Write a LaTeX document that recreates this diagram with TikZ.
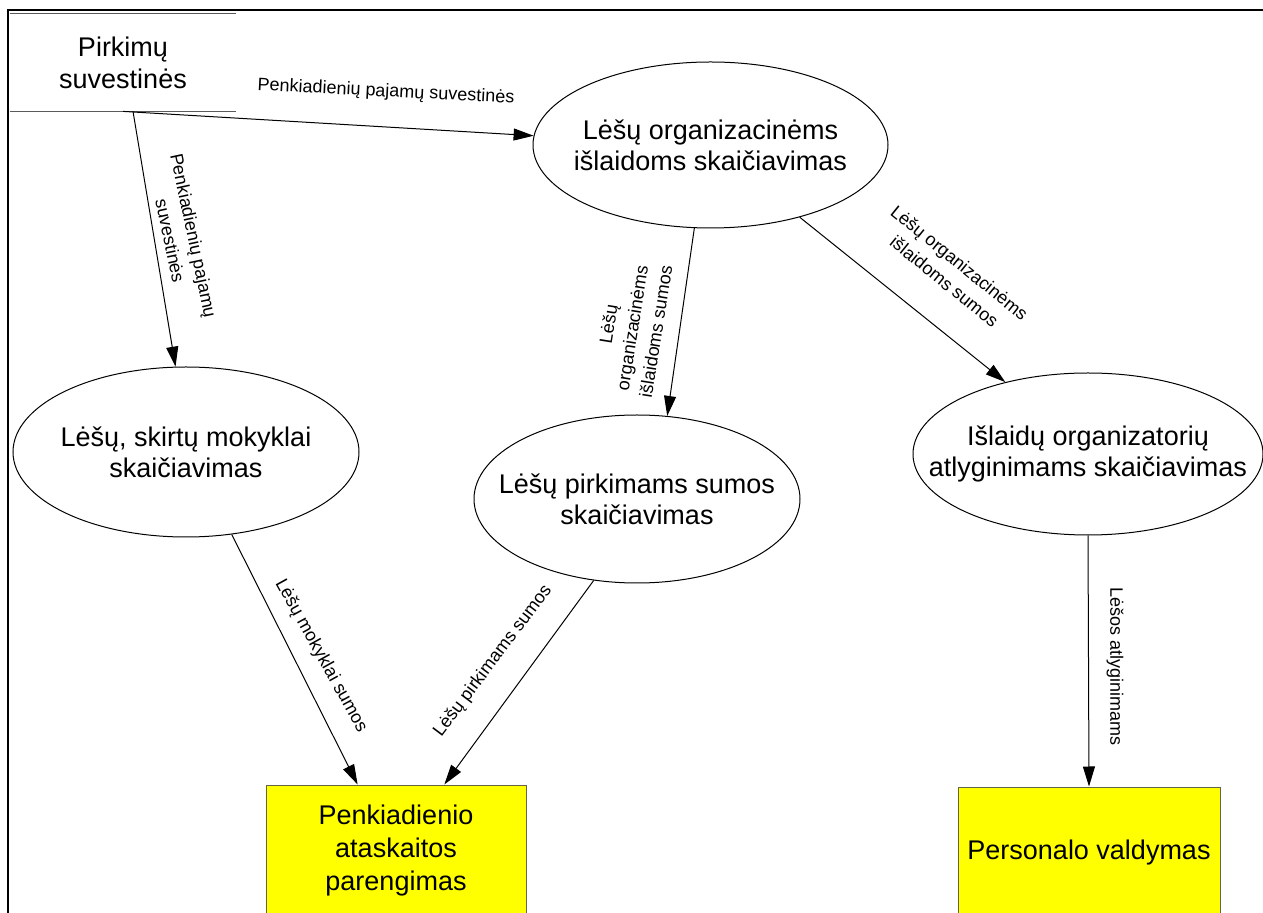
\documentclass[tikz,border=0pt]{standalone}
\usepackage{fontspec}
\setmainfont{Liberation Sans}
\usetikzlibrary{arrows.meta,shapes.geometric}
\definecolor{boxfill}{RGB}{255,255,0}
\definecolor{boxline}{RGB}{100,100,70}
\definecolor{storeline}{RGB}{90,90,90}
\tikzset{
  proc/.style={ellipse, draw, line width=0.5pt, inner sep=0pt},
  proctext/.style={inner sep=0pt, align=center,
    font=\fontsize{13.5}{15.5}\selectfont},
  extbox/.style={rectangle, draw=boxline, fill=boxfill, line width=0.5pt,
    inner sep=0pt, align=center, font=\fontsize{13.5}{16.5}\selectfont},
  datastore/.style={rectangle, inner sep=0pt, align=center,
    minimum width=113pt, minimum height=48.5pt,
    font=\fontsize{13.5}{16}\selectfont},
  flow/.style={draw, line width=0.5pt, -{Triangle[length=10pt,width=6pt]}},
  lbl/.style={inner sep=0pt, align=center, font=\fontsize{9}{12}\selectfont},
}
\begin{document}
\begin{tikzpicture}[x=0.5pt,y=-0.5pt]
\useasboundingbox (0,0) rectangle (1263,913);
\clip (0,0) rectangle (1263,913);

% outer frame
\draw[line width=1pt] (8,10) rectangle (1280,930);

% data store
\node[datastore] (store) at (123,62.5) {Pirkimų\\suvestinės};
\draw[storeline, line width=0.75pt] (store.north west) -- (store.north east);
\draw[storeline, line width=0.75pt] (store.south west) -- (store.south east);

% processes: outline and caption
\node[proc, minimum width=177.5pt, minimum height=83pt] (e1) at (710.5,145) {};
\node[proctext] (e1t) at (e1.center) {Lėšų organizacinėms\\išlaidoms skaičiavimas};
\node[proc, minimum width=173pt, minimum height=85pt] (e2) at (186,452) {};
\node[proctext] (e2t) at (e2.center) {Lėšų, skirtų mokyklai\\skaičiavimas};
\node[proc, minimum width=163pt, minimum height=84pt] (e3) at (637,499) {};
\node[proctext] (e3t) at (e3.center) {Lėšų pirkimams sumos\\skaičiavimas};
\node[proc, minimum width=175pt, minimum height=81pt] (e4) at (1088,454) {};
\node[proctext] (e4t) at (e4.center) {Išlaidų organizatorių\\atlyginimams skaičiavimas};

% external entities
\node[extbox, minimum width=130pt, minimum height=66pt] (b1) at (396,851)
  {Penkiadienio\\ataskaitos\\parengimas};
\node[extbox, minimum width=131pt, minimum height=66pt] (b2) at (1089,853)
  {Personalo valdymas};

% flows
\draw[flow] ([xshift=5pt]store.south) -- (e2.97);
\draw[flow] (store.south) -- (e1.177);
\draw[flow] (e1.259) -- (e3.70);
\draw[flow] (e1.321) -- (e4.139);
\draw[flow] (e2.299.5) -- (b1.120);
\draw[flow] (e3.242) -- (b1.54.5);
\draw[flow] (e4.south) -- (b2.north);

% flow labels
\node[lbl, rotate=-78] (l1) at (182,238) {Penkiadienių pajamų\\suvestinės};
\node[lbl, rotate=-2.9] (l2) at (386,92) {Penkiadienių pajamų suvestinės};
\node[lbl, rotate=81] (l3) at (632,328) {Lėšų\\organizacinėms\\išlaidoms sumos};
\node[lbl, rotate=-39] (l4) at (952,272) {Lėšų organizacinėms\\išlaidoms sumos};
\node[lbl, rotate=-61] (l5) at (321,656) {Lėšų mokyklai sumos};
\node[lbl, rotate=53] (l6) at (493,661) {Lėšų pirkimams sumos};
\node[lbl, rotate=-90] (l7) at (1115,667) {Lėšos atlyginimams};
\end{tikzpicture}
\end{document}
